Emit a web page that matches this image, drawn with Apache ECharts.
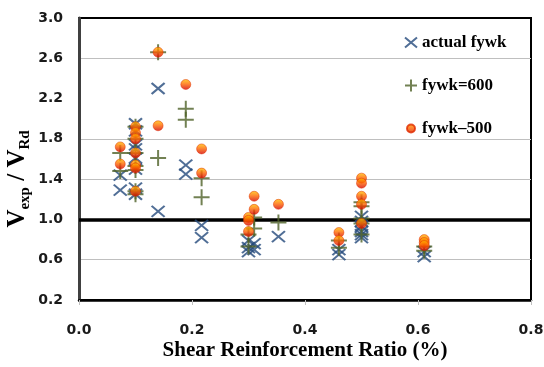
<!DOCTYPE html>
<html><head><meta charset="utf-8">
<script src="https://cdn.jsdelivr.net/npm/echarts@6/dist/echarts.min.js"></script>
<style>html,body{margin:0;padding:0;background:#fff}#c{width:544px;height:367px}</style>
</head><body><div id="c"></div>
<script>
// ---- data ----
const seriesNames = ['actual fywk', 'fywk=600', 'fywk\u2013500'];

const actualX = [0.073,0.073, 0.10,0.10,0.10,0.10,0.10,0.10,0.10,0.10, 0.14,0.14, 0.189,0.189, 0.217,0.217, 0.30,0.30,0.30, 0.31,0.31, 0.353, 0.46,0.46, 0.50,0.50,0.50,0.50,0.50,0.50, 0.611,0.611];
const actualY = [1.44,1.29, 1.95,1.88,1.74,1.70,1.61,1.50,1.31,1.25, 2.30,1.08, 1.54,1.45, 0.94,0.82, 0.79,0.72,0.68, 0.76,0.70, 0.83, 0.70,0.65, 1.03,0.98,0.93,0.88,0.85,0.82, 0.68,0.63];

const fy600X = [0.073,0.073, 0.10,0.10,0.10,0.10,0.10,0.10,0.10, 0.14,0.14, 0.189,0.189, 0.217,0.217, 0.30,0.30, 0.31,0.31, 0.353, 0.46,0.46, 0.50,0.50,0.50,0.50,0.50, 0.611,0.611];
const fy600Y = [1.66,1.48, 1.92,1.80,1.66,1.53,1.49,1.28,1.25, 2.66,1.61, 2.10,1.99, 1.41,1.22, 0.85,0.73, 1.02,0.91, 0.97, 0.79,0.72, 1.17,1.13,1.01,0.96,0.85, 0.73,0.69];

const fy500X = [0.073,0.073, 0.10,0.10,0.10,0.10,0.10,0.10,0.10, 0.14,0.14, 0.189, 0.217,0.217, 0.30,0.30,0.30, 0.31,0.31, 0.353, 0.46,0.46, 0.50,0.50,0.50,0.50,0.50, 0.611,0.611,0.611];
const fy500Y = [1.72,1.55, 1.92,1.86,1.80,1.66,1.54,1.51,1.28, 2.66,1.93, 2.34, 1.70,1.46, 1.02,0.99,0.88, 1.23,1.10, 1.15, 0.87,0.79, 1.41,1.36,1.23,1.15,0.96, 0.80,0.77,0.74];

const xTicks = [0.0, 0.2, 0.4, 0.6, 0.8];
const yLabelTicks = [0.2, 0.6, 1.0, 1.4, 1.8, 2.2, 2.6, 3.0];
const refLine = 1.0;

function zip(xs, ys) { return xs.map((x, i) => [x, ys[i]]); }

const chart = echarts.init(document.getElementById('c'));
const labelFont = { fontFamily: 'DejaVu Sans', fontWeight: 'bold', fontSize: 14, color: '#1a1a1a' };
const serif = 'Liberation Serif';

// split-line colours per 0.2 tick (0.2 .. 3.0)
const gridCols = ['transparent','transparent','#bfbfbf','transparent','transparent','transparent','#bfbfbf','transparent','#bfbfbf','transparent','transparent','transparent','#bfbfbf','transparent','transparent'];

const ballFill = new echarts.graphic.LinearGradient(0, 0, 0, 1, [
  { offset: 0, color: '#ffc400' }, { offset: 0.45, color: '#ff6a00' }, { offset: 1, color: '#d40000' }
]);

chart.setOption({
  backgroundColor: '#fff',
  animation: false,
  grid: { left: 79, right: 13, top: 18, bottom: 67, show: true, borderColor: '#000', borderWidth: 2,
          containLabel: false, outerBoundsMode: 'none' },
  legend: {
    orient: 'vertical', left: 399, top: 29, itemGap: 26, itemWidth: 12, itemHeight: 12,
    data: [
      { name: seriesNames[0] },
      { name: seriesNames[1] },
      { name: seriesNames[2], icon: 'path://M2,6a4,4 0 1,0 8,0a4,4 0 1,0 -8,0M0,0M12,12' }
    ],
    textStyle: { fontFamily: serif, fontWeight: 'bold', fontSize: 17, color: '#000' }
  },
  xAxis: {
    type: 'value', min: 0, max: 0.8, interval: 0.2,
    name: 'Shear Reinforcement Ratio (%)', nameLocation: 'middle', nameGap: 40, nameMoveOverlap: false,
    nameTextStyle: { fontFamily: serif, fontWeight: 'bold', fontSize: 21, color: '#000' },
    axisLine: { show: true, onZero: false, lineStyle: { color: '#000', width: 2.5 } },
    axisTick: { show: true, length: 5, lineStyle: { color: '#bfbfbf' } },
    axisLabel: Object.assign({ margin: 23, formatter: v => v.toFixed(1) }, labelFont),
    splitLine: { show: false }
  },
  yAxis: {
    type: 'value', min: 0.2, max: 3.0, interval: 0.2,
    name: '{V|V}{s|exp}{V| / V}{s|Rd}', nameLocation: 'middle', nameRotate: 90, nameGap: 46,
    nameMoveOverlap: false,
    nameTextStyle: {
      padding: [0, 40, 0, 0],
      rich: {
        V: { fontFamily: serif, fontWeight: 'bold', fontSize: 25, color: '#000', padding: [0, 0, 3, 0] },
        s: { fontFamily: serif, fontWeight: 'bold', fontSize: 15, color: '#000', verticalAlign: 'bottom' }
      }
    },
    axisLine: { show: true, onZero: false, lineStyle: { color: '#404040', width: 3 } },
    axisTick: { show: false },
    axisLabel: Object.assign({
      margin: 16,
      formatter: v => {
        const hit = yLabelTicks.find(t => Math.abs(t - v) < 1e-6);
        return hit === undefined ? '' : hit.toFixed(1);
      }
    }, labelFont),
    splitLine: { show: true, lineStyle: { color: gridCols, width: 1 } }
  },
  series: [
    {
      name: seriesNames[0], type: 'scatter', data: zip(actualX, actualY), z: 3,
      symbol: 'path://M0,0L13,11M13,0L0,11', symbolSize: [13, 11],
      itemStyle: { color: 'rgba(0,0,0,0)', borderColor: '#244a7c', borderWidth: 2 },
      markLine: {
        silent: true, symbol: 'none', label: { show: false }, z: 1,
        lineStyle: { color: '#000', width: 3.5, type: 'solid' },
        data: [{ yAxis: refLine }]
      }
    },
    {
      name: seriesNames[1], type: 'scatter', data: zip(fy600X, fy600Y), z: 4,
      symbol: 'path://M8,0L8,16M0,8L16,8', symbolSize: 16,
      itemStyle: { color: 'rgba(0,0,0,0)', borderColor: '#4f6228', borderWidth: 2 }
    },
    {
      name: seriesNames[2], type: 'scatter', data: zip(fy500X, fy500Y), z: 5,
      symbol: 'circle', symbolSize: 10,
      itemStyle: { color: ballFill, borderColor: '#e02a00', borderWidth: 0.6 }
    }
  ]
});
</script>
</body></html>
